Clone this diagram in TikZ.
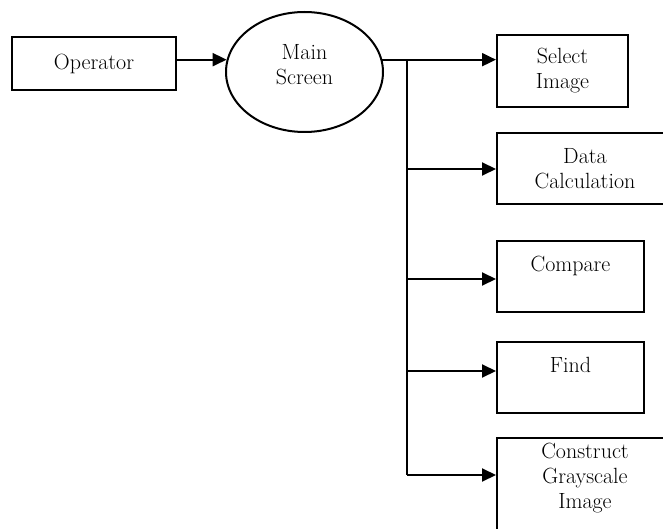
\documentclass[tikz,border=0pt]{standalone}
\usetikzlibrary{arrows.meta,shapes.geometric}

\tikzset{
    box/.style={draw, line width=2pt, align=center, inner sep=2pt,
                font=\fontsize{22}{25}\selectfont},
    arr/.style={line width=2pt, -{Triangle[length=14pt, width=13pt]}},
}
\def\trunkx{407}

\begin{document}
\begin{tikzpicture}[x=1pt, y=-1pt]
    \useasboundingbox (0,0) rectangle (663,529);
    \clip (0,0) rectangle (663,529);

    \node[box, minimum width=164pt, minimum height=53pt] (op) at (94,63.5) {Operator};
    \node[box, ellipse, minimum width=157pt, minimum height=120pt,
          text height=40pt, text depth=15pt] (main) at (304.5,72) {Main\\Screen};

    % right hand column
    \node[box, minimum width=131pt, minimum height=72pt] (sel) at (562.5,71) {Select\\Image};
    \node[box, minimum width=176pt, minimum height=71pt] (data) at (585,168.5) {Data\\Calculation};
    \node[box, minimum width=147pt, minimum height=71pt] (cmp) at (570.5,276) {Compare\\\mbox{}};
    \node[box, minimum width=147pt, minimum height=71pt] (find) at (570.5,377) {Find\\\mbox{}};
    \node[box, minimum width=176pt, minimum height=100pt] (cgi) at (585,488) {Construct\\Grayscale\\Image\\\mbox{}};

    \draw[arr] (op.east |- main.171) -- (main.171);

    \coordinate (bdata) at (\trunkx,169);
    \coordinate (bcmp) at (\trunkx,279);
    \coordinate (bfind) at (\trunkx,371);
    \coordinate (bcgi) at (\trunkx,475);
    \coordinate (bsel) at (main.9 -| bdata);

    \draw[line width=2pt] (bsel) -- (bcgi);
    \draw[arr] (main.9) -- (main.9 -| sel.west);
    \foreach \n in {data, cmp, find, cgi}
        \draw[arr] (b\n) -- (b\n -| \n.west);
\end{tikzpicture}
\end{document}
